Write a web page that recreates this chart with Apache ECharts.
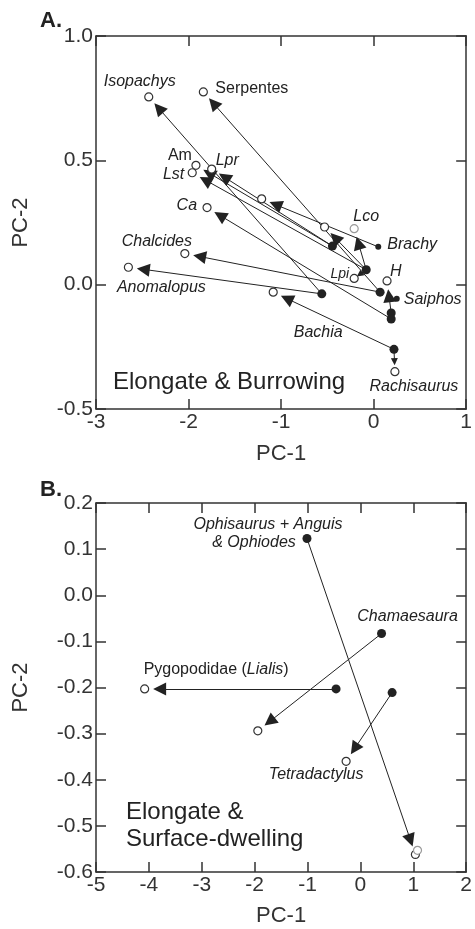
<!DOCTYPE html>
<html>
<head>
<meta charset="utf-8">
<script src="https://cdn.jsdelivr.net/npm/echarts@6/dist/echarts.min.js"></script>
<style>
  html, body { margin: 0; background: #fff; }
  #chart { width: 475px; height: 929px; }
</style>
</head>
<body>
<div id="chart"></div>
<script>
// Panel A: elongate & burrowing
// open circles (tips)
const aTipName = ['Isopachys', 'Serpentes', 'Am', 'Lst', 'Lpr', 'Ca', 'Chalcides', 'Anomalopus', '', '', 'Lco', 'Lpi', 'H', 'Bachia', 'Rachisaurus']
const aTipX = [-2.43, -1.84, -1.92, -1.96, -1.75, -1.80, -2.04, -2.65, -1.21, -0.53, -0.21, -0.21, 0.145, -1.085, 0.23]
const aTipY = [0.755, 0.775, 0.48, 0.45, 0.465, 0.31, 0.125, 0.07, 0.345, 0.232, 0.225, 0.025, 0.015, -0.03, -0.35]
// filled circles (nodes)
const aNodeName = ['', 'Brachy', '', '', 'Saiphos', '', '', '', '']
const aNodeX = [-0.445, 0.05, -0.08, 0.07, 0.25, -0.56, 0.19, 0.19, 0.22]
const aNodeY = [0.155, 0.152, 0.06, -0.03, -0.057, -0.037, -0.114, -0.138, -0.26]
// arrows: node index -> tip index
const aArrowFrom = [5, 3, 0, 2, 0, 7, 3, 5, 1, 2, 2, 2, 6, 8, 8]
const aArrowTo = [0, 1, 2, 3, 4, 5, 6, 7, 8, 9, 10, 11, 12, 13, 14]

// Panel B: elongate & surface-dwelling
const bTipName = ['Lialis', '', 'Tetradactylus', '', '']
const bTipX = [-4.08, -1.94, -0.27, 1.04, 1.08]
const bTipY = [-0.203, -0.294, -0.36, -0.562, -0.553]
const bNodeName = ['Ophisaurus', 'Chamaesaura', '', '']
const bNodeX = [-1.01, 0.40, -0.46, 0.60]
const bNodeY = [0.123, -0.083, -0.203, -0.211]
const bArrowFrom = [0, 1, 2, 3]
const bArrowTo = [3, 1, 0, 2]

// label placement: [dx, dy, align, italic]
const labelPos = {
  Isopachys: [-9, -15, 'center', true],
  Serpentes: [12, -3, 'left', false],
  Am: [-4, -10, 'right', false],
  Lst: [-8, 2, 'right', true],
  Lpr: [4, -8, 'left', true],
  Ca: [-10, -2, 'right', true],
  Chalcides: [-28, -12, 'center', true],
  Anomalopus: [33, 20, 'center', true],
  Lco: [12, -12, 'center', true],
  Lpi: [-5, -4, 'right', true],
  H: [3, -9, 'left', true],
  Bachia: [45, 40, 'center', true],
  Rachisaurus: [19, 15, 'center', true],
  Brachy: [9, -2, 'left', true],
  Saiphos: [7, 1, 'left', true],
  Ophisaurus: [-39, -5, 'center', true],
  Chamaesaura: [26, -17, 'center', true],
  Lialis: [-1, -19, 'left', false],
  Tetradactylus: [-30, 13, 'center', true]
}
const grayTips = { A: [10], B: [4] }

const FONT = 'Liberation Sans, Arial, sans-serif'
const INK = '#222'

function labelFor (name) {
  if (!name || !labelPos[name]) return { show: false }
  const [dx, dy, align, italic] = labelPos[name]
  const lab = {
    show: true,
    position: 'inside',
    offset: [dx, dy],
    align: align,
    verticalAlign: 'middle',
    fontFamily: FONT,
    fontSize: name === 'Lpi' ? 14 : 16,
    fontStyle: italic ? 'italic' : 'normal',
    color: INK,
    opacity: 1,
    formatter: '{b}'
  }
  if (name === 'Lialis') {
    lab.formatter = '{n|Pygopodidae (}{i|Lialis}{n|)}'
    lab.rich = {
      n: { fontFamily: FONT, fontSize: 16, color: INK },
      i: { fontFamily: FONT, fontSize: 16, color: INK, fontStyle: 'italic' }
    }
  }
  if (name === 'Ophisaurus') {
    lab.formatter = '{t|Ophisaurus + Anguis}\n{t|& Ophiodes}{g|}'
    lab.rich = {
      t: { fontFamily: FONT, fontSize: 16, color: INK, fontStyle: 'italic', lineHeight: 18 },
      g: { width: 28 }
    }
  }
  return lab
}

function tipData (names, xs, ys, grays) {
  return xs.map((x, i) => ({
    name: names[i],
    value: [x, ys[i]],
    label: labelFor(names[i]),
    itemStyle: grays.indexOf(i) >= 0 ? { borderColor: '#9a9a9a' } : undefined
  }))
}

function nodeData (names, xs, ys) {
  return xs.map((x, i) => ({
    name: names[i],
    value: [x, ys[i]],
    label: labelFor(names[i]),
    symbolSize: names[i] === 'Brachy' || names[i] === 'Saiphos' ? 6 : 9
  }))
}

function axisPair (gi, min, max, interval, isX, name, nameGap, fmt) {
  const common = {
    gridIndex: gi,
    type: 'value',
    min: min,
    max: max,
    interval: interval,
    axisLine: { show: true, onZero: false, lineStyle: { color: '#333', width: 1.5 } },
    axisTick: { show: true, inside: true, length: 10, lineStyle: { color: '#333', width: 1.5 } },
    splitLine: { show: false }
  }
  const main = Object.assign({}, common, {
    position: isX ? 'bottom' : 'left',
    name: name,
    nameLocation: 'middle',
    nameGap: nameGap,
    nameTextStyle: { fontFamily: FONT, fontSize: 22, color: '#333' },
    axisLabel: { fontFamily: FONT, fontSize: 21, color: '#333', margin: 3, formatter: fmt }
  })
  const other = Object.assign({}, common, {
    position: isX ? 'top' : 'right',
    axisLabel: { show: false }
  })
  return [main, other]
}

const fmtInt = v => String(Math.round(v))
const fmtDec = v => (Math.abs(v) < 1e-9 ? '0.0' : v.toFixed(1))

const chart = echarts.init(document.getElementById('chart'), null, { renderer: 'canvas' })

const openStyle = { color: '#fff', borderColor: '#333', borderWidth: 1.2, opacity: 1 }
const fillStyle = { color: '#222', opacity: 1 }

const option = {
  animation: false,
  backgroundColor: '#fff',
  title: [
    { text: 'A.', left: 35, top: 5, textStyle: { fontFamily: FONT, fontSize: 22, fontWeight: 'bold', color: '#222' } },
    { text: 'B.', left: 35, top: 474, textStyle: { fontFamily: FONT, fontSize: 22, fontWeight: 'bold', color: '#222' } },
    { text: 'Elongate & Burrowing', left: 108, top: 365, textStyle: { fontFamily: FONT, fontSize: 24, fontWeight: 'normal', color: '#222' } },
    { text: 'Elongate &\nSurface-dwelling', left: 121, top: 794, textStyle: { fontFamily: FONT, fontSize: 24, fontWeight: 'normal', color: '#222', lineHeight: 27 } }
  ],
  grid: [
    { left: 96, top: 36, width: 374, height: 373 },
    { left: 96, top: 503, width: 371, height: 369 }
  ],
  xAxis: [
    ...axisPair(0, -3, 1, 1, true, 'PC-1', 34, fmtInt),
    ...axisPair(1, -5, 2, 1, true, 'PC-1', 33, fmtInt)
  ],
  yAxis: [
    ...axisPair(0, -0.5, 1.0, 0.5, false, 'PC-2', 64, fmtDec),
    ...axisPair(1, -0.6, 0.2, 0.1, false, 'PC-2', 64, fmtDec)
  ],
  series: [
    { type: 'scatter', xAxisIndex: 0, yAxisIndex: 0, symbol: 'circle', symbolSize: 8, itemStyle: openStyle, z: 3,
      data: tipData(aTipName, aTipX, aTipY, grayTips.A) },
    { type: 'scatter', xAxisIndex: 0, yAxisIndex: 0, symbol: 'circle', itemStyle: fillStyle, z: 3,
      data: nodeData(aNodeName, aNodeX, aNodeY) },
    { type: 'scatter', xAxisIndex: 2, yAxisIndex: 2, symbol: 'circle', symbolSize: 8, itemStyle: openStyle, z: 3,
      data: tipData(bTipName, bTipX, bTipY, grayTips.B) },
    { type: 'scatter', xAxisIndex: 2, yAxisIndex: 2, symbol: 'circle', symbolSize: 8, itemStyle: fillStyle, z: 3,
      data: nodeData(bNodeName, bNodeX, bNodeY) }
  ]
}
chart.setOption(option)

// arrows stop short of the target circle; computed in pixel space through the grid
function arrowCoords (gi, fromX, fromY, toX, toY, fromIdx, toIdx) {
  const longs = []
  const shorts = []
  fromIdx.forEach((f, k) => {
    const t = toIdx[k]
    const p0 = chart.convertToPixel({ gridIndex: gi }, [fromX[f], fromY[f]])
    const p1 = chart.convertToPixel({ gridIndex: gi }, [toX[t], toY[t]])
    const dx = p0[0] - p1[0]
    const dy = p0[1] - p1[1]
    const d = Math.sqrt(dx * dx + dy * dy)
    const gap = d < 25 ? d * 0.45 : 15
    const tip = [p1[0] + dx / d * gap, p1[1] + dy / d * gap]
    const item = { coords: [[fromX[f], fromY[f]], chart.convertFromPixel({ gridIndex: gi }, tip)] }
    ;(d < 25 ? shorts : longs).push(item)
  })
  return { longs, shorts }
}

const arrA = arrowCoords(0, aNodeX, aNodeY, aTipX, aTipY, aArrowFrom, aArrowTo)
const arrB = arrowCoords(1, bNodeX, bNodeY, bTipX, bTipY, bArrowFrom, bArrowTo)

function linesSeries (xi, data, size) {
  return {
    type: 'lines',
    coordinateSystem: 'cartesian2d',
    xAxisIndex: xi,
    yAxisIndex: xi,
    symbol: ['none', 'triangle'],
    symbolSize: size,
    lineStyle: { color: '#222', width: 1, opacity: 1 },
    itemStyle: { color: '#222' },
    z: 2,
    silent: true,
    data: data
  }
}

chart.setOption({
  series: option.series.concat([
    linesSeries(0, arrA.longs, 13),
    linesSeries(0, arrA.shorts, 7),
    linesSeries(2, arrB.longs, 13)
  ])
})
</script>
</body>
</html>
